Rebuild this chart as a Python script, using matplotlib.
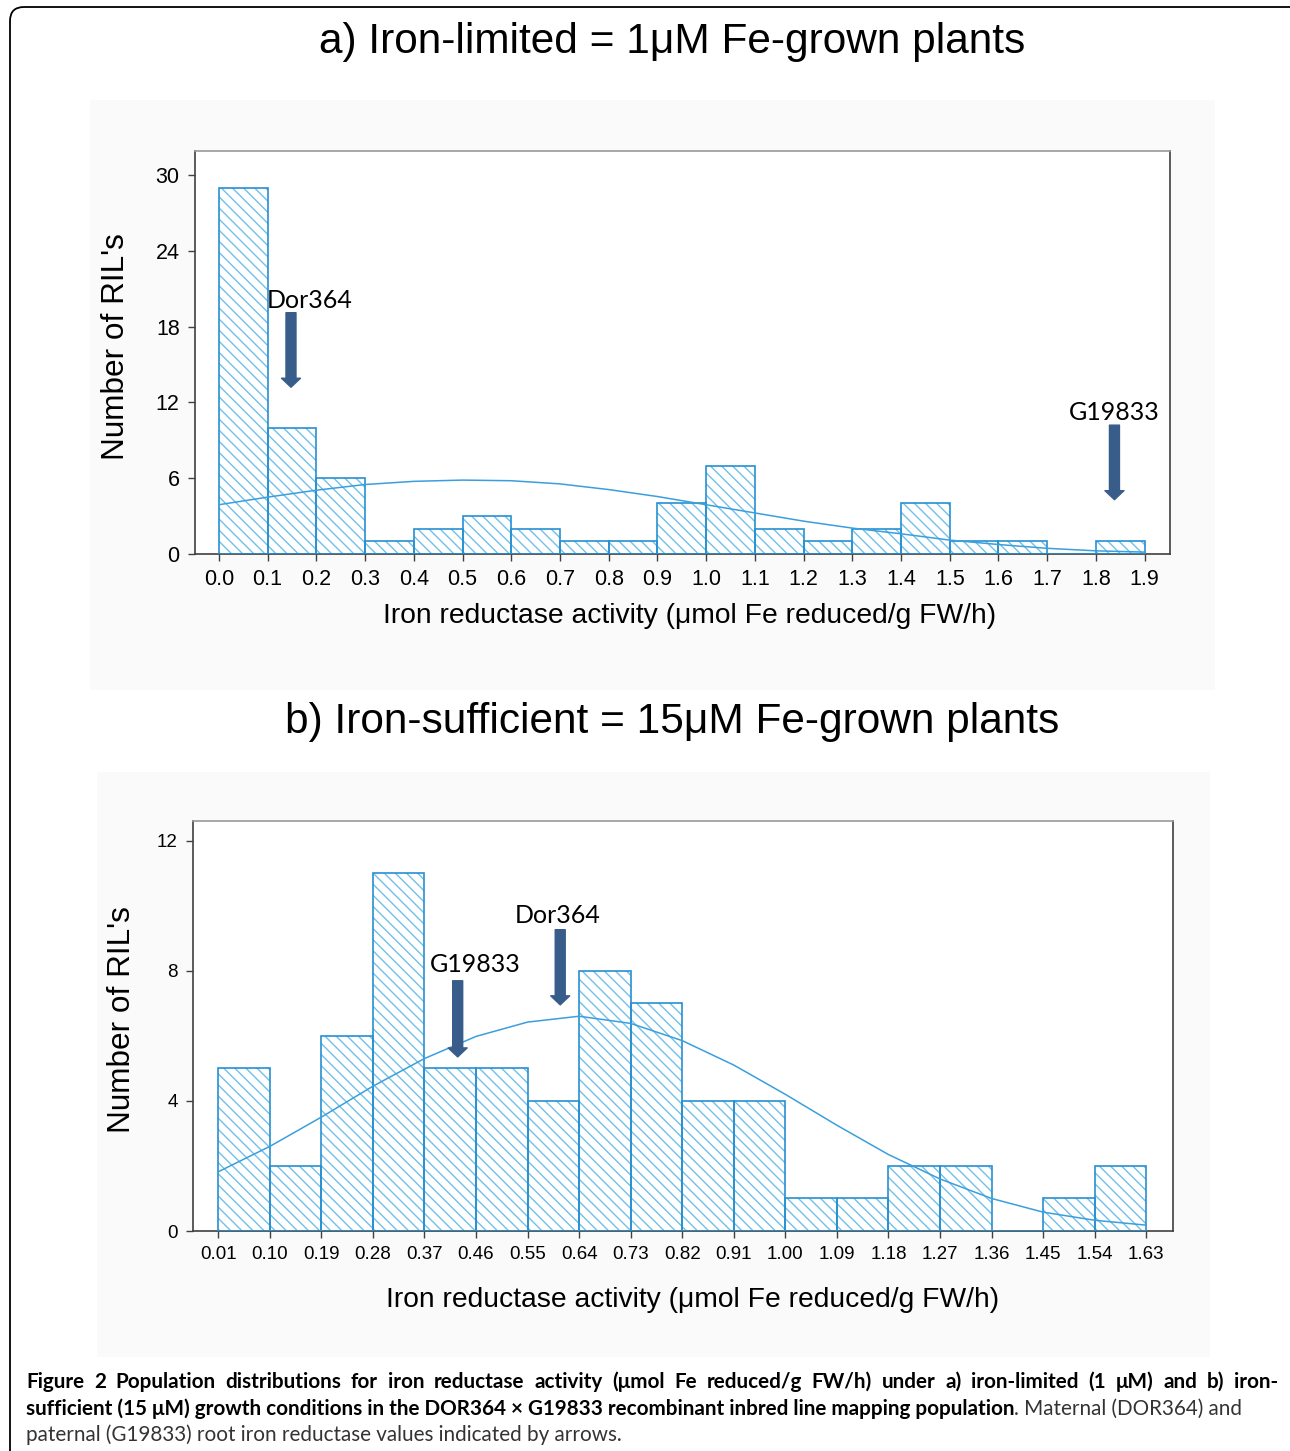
import matplotlib.pyplot as plt
from matplotlib.patches import FancyBboxPatch, Rectangle

# ---- data: panel a (1 uM Fe) ----
edges_a = [0.0, 0.1, 0.2, 0.3, 0.4, 0.5, 0.6, 0.7, 0.8, 0.9, 1.0,
           1.1, 1.2, 1.3, 1.4, 1.5, 1.6, 1.7, 1.8, 1.9]
counts_a = [29, 10, 6, 1, 2, 3, 2, 1, 1, 4, 7, 2, 1, 2, 4, 1, 1, 0, 1]
fit_a = [3.9, 4.5, 5.05, 5.5, 5.75, 5.85, 5.8, 5.55, 5.1, 4.55, 3.9,
         3.25, 2.6, 2.05, 1.6, 1.1, 0.75, 0.45, 0.25, 0.15]
labels_a = ['0.0', '0.1', '0.2', '0.3', '0.4', '0.5', '0.6', '0.7', '0.8', '0.9',
            '1.0', '1.1', '1.2', '1.3', '1.4', '1.5', '1.6', '1.7', '1.8', '1.9']
yticks_a = [0, 6, 12, 18, 24, 30]

# ---- data: panel b (15 uM Fe) ----
edges_b = [0.01, 0.10, 0.19, 0.28, 0.37, 0.46, 0.55, 0.64, 0.73, 0.82,
           0.91, 1.00, 1.09, 1.18, 1.27, 1.36, 1.45, 1.54, 1.63]
counts_b = [5, 2, 6, 11, 5, 5, 4, 8, 7, 4, 4, 1, 1, 2, 2, 0, 1, 2]
fit_b = [1.82, 2.6, 3.5, 4.45, 5.3, 5.98, 6.42, 6.6, 6.38, 5.85,
         5.1, 4.2, 3.25, 2.35, 1.6, 1.0, 0.58, 0.33, 0.18]
labels_b = ['0.01', '0.10', '0.19', '0.28', '0.37', '0.46', '0.55', '0.64', '0.73',
            '0.82', '0.91', '1.00', '1.09', '1.18', '1.27', '1.36', '1.45', '1.54', '1.63']
yticks_b = [0, 4, 8, 12]

# parent markers: (label, text x, text y, arrow x, arrow top, arrow tip)
marks_a = [('Dor364', 0.187, 20.1, 0.148, 19.1, 13.2),
           ('G19833', 1.838, 11.2, 1.838, 10.2, 4.3)]
marks_b = [('G19833', 0.459, 8.2, 0.428, 7.69, 5.35),
           ('Dor364', 0.603, 9.69, 0.607, 9.26, 6.95)]

xlabel = 'Iron reductase activity (\u03bcmol Fe reduced/g FW/h)'
ylabel = "Number of RIL's"

HATCH_C = '#72c0ea'
EDGE_C = '#2690d2'
FIT_C = '#3a9fdc'
ARROW_C = '#385d8a'
SANS = 'Liberation Sans'

fig = plt.figure(figsize=(12.9, 14.51), dpi=100)

# overlay in pixel coords for frame, backgrounds, titles and caption
ov = fig.add_axes([0, 0, 1, 1], zorder=0)
ov.set_xlim(0, 1290)
ov.set_ylim(1451, 0)
ov.axis('off')
ov.add_patch(FancyBboxPatch((10, 7), 1295, 1460, boxstyle='round,pad=0,rounding_size=14',
                            fill=False, ec='black', lw=1.3, clip_on=False))
ov.add_patch(Rectangle((90, 100), 1125, 590, color='#fafafa', lw=0))
ov.add_patch(Rectangle((97, 772), 1113, 585, color='#fafafa', lw=0))
ov.text(672, 42, 'a) Iron-limited = 1\u03bcM Fe-grown plants', ha='center', va='center',
        fontsize=30.5, family=SANS)
ov.text(672, 722, 'b) Iron-sufficient = 15\u03bcM Fe-grown plants', ha='center', va='center',
        fontsize=30.5, family=SANS)


def panel(rect, edges, counts, fit, labels, yticks, ymax, marks, tick_fs, ylab_xy, xpad):
    ax = fig.add_axes(rect, zorder=2)
    w = edges[1] - edges[0]
    ax.bar(edges[:-1], counts, width=w, align='edge', color='white', edgecolor=HATCH_C,
           hatch='\\\\\\', lw=0, zorder=2)
    ax.bar(edges[:-1], counts, width=w, align='edge', fill=False, edgecolor=EDGE_C,
           lw=1.2, zorder=3)
    ax.plot(edges, fit, color=FIT_C, lw=1.1, zorder=4)
    for name, tx, ty, x, y0, y1 in marks:
        ax.text(tx, ty, name, ha='center', va='center', fontsize=18, family='Lato', zorder=5)
        ax.annotate('', xy=(x, y1), xytext=(x, y0),
                    arrowprops=dict(arrowstyle='simple,head_width=1.9,head_length=0.9,tail_width=1',
                                    mutation_scale=7.2, color=ARROW_C, shrinkA=0, shrinkB=0),
                    zorder=5)
    ax.set_xlim(edges[0] - 0.49 * w, edges[-1] + 0.52 * w)
    ax.set_ylim(0, ymax)
    ax.set_xticks(edges)
    ax.set_xticklabels(labels)
    ax.set_yticks(yticks)
    ax.tick_params(labelsize=tick_fs, length=5, width=1, color='#404040', pad=6)
    for lab in ax.get_xticklabels() + ax.get_yticklabels():
        lab.set_family(SANS)
    for s in ['left', 'bottom', 'right']:
        ax.spines[s].set_color('#404040')
        ax.spines[s].set_linewidth(1.2)
    ax.spines['top'].set_color('#999999')
    ax.spines['top'].set_linewidth(1.2)
    ax.set_xlabel(xlabel, fontsize=20.3, family=SANS, labelpad=xpad)
    ax.set_ylabel(ylabel, fontsize=22.7, family=SANS)
    ax.yaxis.set_label_coords(*ylab_xy)
    return ax


axa = panel([195 / 1290, 1 - 554 / 1451, 975 / 1290, 403 / 1451], edges_a, counts_a, fit_a,
            labels_a, yticks_a, 31.9, marks_a, 15.5, (-0.0656, 0.514), 9)
axa.xaxis.label.set_x(0.507)
axb = panel([193 / 1290, 1 - 1231 / 1451, 980 / 1290, 410 / 1451], edges_b, counts_b, fit_b,
            labels_b, yticks_b, 12.6, marks_b, 13.5, (-0.057, 0.515), 17)
axb.xaxis.label.set_x(0.51)

# caption
cap1 = ('Figure 2 Population distributions for iron reductase activity (\u03bcmol Fe reduced/g FW/h) '
        'under a) iron-limited (1 \u03bcM) and b) iron-')
cap2b = ('sufficient (15 \u03bcM) growth conditions in the DOR364 \u00d7 G19833 recombinant inbred '
         'line mapping population')
cap2n = '. Maternal (DOR364) and'
cap3 = 'paternal (G19833) root iron reductase values indicated by arrows.'
CAP_FS = 14.9
CAP_L, CAP_R = 26, 1278

# first line is justified to the full caption width
renderer = fig.canvas.get_renderer()
words = cap1.split(' ')
arts = [ov.text(0, 1388, wd, fontsize=CAP_FS, fontweight='bold', family='Lato',
                va='baseline') for wd in words]
widths = [a.get_window_extent(renderer).width for a in arts]
gap = (CAP_R - CAP_L - sum(widths)) / (len(words) - 1)
x = CAP_L
for a, wdt in zip(arts, widths):
    a.set_x(x)
    x += wdt + gap

t2 = ov.text(CAP_L, 1415, cap2b, fontsize=CAP_FS, fontweight='bold', family='Lato', va='baseline')
ov.annotate(cap2n, xy=(1, 0), xycoords=t2, va='bottom', fontsize=CAP_FS, family='Lato',
            color='#333333')
ov.text(CAP_L, 1441, cap3, fontsize=CAP_FS, family='Lato', va='baseline', color='#333333')

fig.savefig('out.png', dpi=100)
